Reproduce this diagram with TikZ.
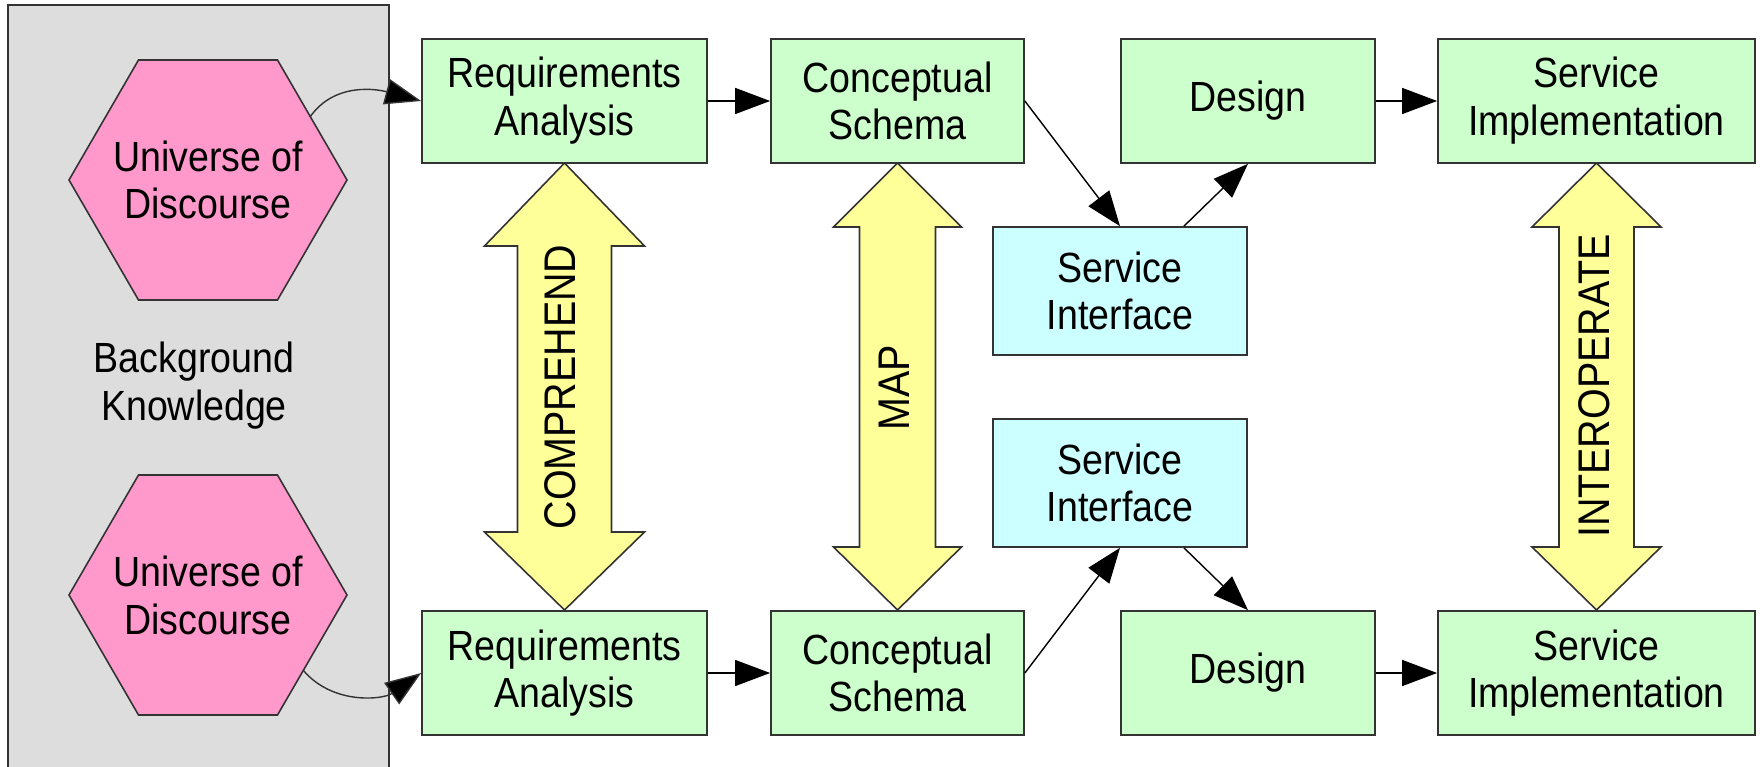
\documentclass[tikz,border=0pt]{standalone}
\usepackage{fontspec}
\setmainfont[FakeStretch=0.89]{Liberation Sans}
\usetikzlibrary{arrows.meta,calc}
\definecolor{boxgreen}{HTML}{CCFFCC}
\definecolor{boxcyan}{HTML}{CCFFFF}
\definecolor{arrowyellow}{HTML}{FFFF99}
\definecolor{hexpink}{HTML}{FF99CC}
\definecolor{bggray}{HTML}{DDDDDD}
\definecolor{linegray}{HTML}{333333}
\newcommand{\mainfnt}{\fontsize{12}{13.6}\selectfont}
\newcommand{\bigfnt}{\fontsize{12.6}{14}\selectfont}
\begin{document}
\begin{tikzpicture}[x=0.01cm,y=-0.01cm,
  box/.style={draw=linegray, line width=0.45pt, fill=boxgreen, minimum width=#1,
    minimum height=1.24cm, inner sep=0pt, align=center, font=\mainfnt},
  box/.default=2.54cm,
  ibox/.style={box, fill=boxcyan, minimum height=1.28cm},
  hexs/.style={draw=linegray, line width=0.45pt, fill=hexpink, line join=miter},
  conn/.style={-{Triangle[length=0.35cm,width=0.26cm]}, line width=0.4pt, draw=black},
  wavy/.style={-{Triangle[length=0.36cm,width=0.26cm,fill=black]}, line width=0.4pt, draw=linegray},
  darrow/.style={fill=arrowyellow, draw=linegray, line width=0.45pt, line join=miter},
  alabel/.style={rotate=90, font=\bigfnt, inner sep=0pt},
  plain/.style={align=center, font=\mainfnt, inner sep=0pt}]
\useasboundingbox (0,0) rectangle (1763,767);

% background knowledge area
\fill[bggray] (8,5) rectangle (389,770);
\draw[linegray, line width=0.45pt] (8,770) -- (8,5) -- (389,5) -- (389,770);
\node[plain] (bk) at (194,386) {Background\\Knowledge};

% hexagons
\coordinate (h1) at (208,180);
\coordinate (h2) at (208,595);
\filldraw[hexs] ($(h1)+(-69.5,-120)$) -- ++(139,0) -- ++(69.5,120) -- ++(-69.5,120)
  -- ++(-139,0) -- ++(-69.5,-120) -- cycle;
\filldraw[hexs] ($(h2)+(-69.5,-120)$) -- ++(139,0) -- ++(69.5,120) -- ++(-69.5,120)
  -- ++(-139,0) -- ++(-69.5,-120) -- cycle;
\node[plain] (u1) at (h1) {Universe of\\Discourse};
\node[plain] (u2) at (h2) {Universe of\\Discourse};
\coordinate (u1out) at ($(h1)+(102,-63)$);
\coordinate (u2out) at ($(h2)+(95,75)$);

% yellow double arrows
\filldraw[darrow] (564.5,163) -- (644.5,246) -- (611.5,246) -- (611.5,532) -- (644.5,532)
  -- (564.5,610) -- (484.5,532) -- (517.5,532) -- (517.5,246) -- (484.5,246) -- cycle;
\filldraw[darrow] (897.5,163) -- (961.5,227) -- (935.5,227) -- (935.5,547) -- (961.5,547)
  -- (897.5,610) -- (833.5,547) -- (859.5,547) -- (859.5,227) -- (833.5,227) -- cycle;
\filldraw[darrow] (1596.5,163) -- (1661,227) -- (1634,227) -- (1634,547) -- (1661,547)
  -- (1596.5,610) -- (1532,547) -- (1559,547) -- (1559,227) -- (1532,227) -- cycle;
\node[alabel] (comp) at (560,387) {COMPREHEND};
\node[alabel] (map) at (894,388) {MAP};
\node[alabel] (inter) at (1594,386) {INTEROPERATE};

% top row
\node[box=2.85cm] (ra1) at (564.5,101) {Requirements\\Analysis};
\node[box=2.53cm] (cs1) at (897.5,101) {Conceptual\\Schema};
\node[box] (d1) at (1248,101) {Design};
\node[box=3.17cm] (sp1) at (1596.5,101) {Service\\Implementation};

% service interfaces
\node[ibox] (si1) at (1120,291) {Service\\Interface};
\node[ibox] (si2) at (1120,483) {Service\\Interface};

% bottom row
\node[box=2.85cm] (ra2) at (564.5,673) {Requirements\\Analysis};
\node[box=2.53cm] (cs2) at (897.5,673) {Conceptual\\Schema};
\node[box] (d2) at (1248,673) {Design};
\node[box=3.17cm] (sp2) at (1596.5,673) {Service\\Implementation};

% connectors
\draw[wavy] (u1out) to[out=55,in=165] (ra1.west);
\draw[wavy] (u2out) to[out=-50,in=-145] (ra2.west);

\draw[conn] (ra1.east) -- (cs1.west);
\draw[conn] (cs1.east) -- (si1.north);
\draw[conn] ($(si1.north)!0.5!(si1.north east)$) -- (d1.south);
\draw[conn] (d1.east) -- (sp1.west);

\draw[conn] (ra2.east) -- (cs2.west);
\draw[conn] (cs2.east) -- (si2.south);
\draw[conn] ($(si2.south)!0.5!(si2.south east)$) -- (d2.north);
\draw[conn] (d2.east) -- (sp2.west);
\end{tikzpicture}
\end{document}
